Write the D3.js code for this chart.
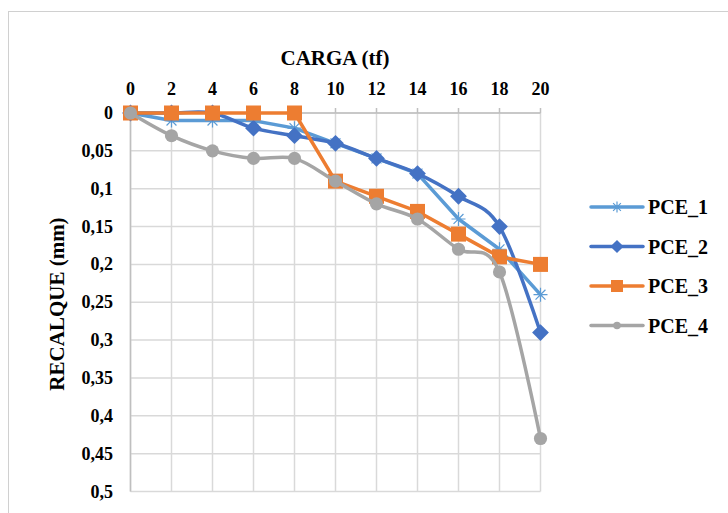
<!DOCTYPE html>
<html><head><meta charset="utf-8">
<script src="https://cdn.jsdelivr.net/npm/d3@7"></script>
<style>body{margin:0;background:#fff;}</style>
</head><body>
<svg id="c" width="728" height="513"></svg>
<script>
const cargas = [0, 2, 4, 6, 8, 10, 12, 14, 16, 18, 20];
const pce1 = [0, 0.01, 0.01, 0.01, 0.02, 0.04, 0.06, 0.08, 0.14, 0.18, 0.24];
const pce2 = [0, 0, 0, 0.02, 0.03, 0.04, 0.06, 0.08, 0.11, 0.15, 0.29];
const pce3 = [0, 0, 0, 0, 0, 0.09, 0.11, 0.13, 0.16, 0.19, 0.20];
const pce4 = [0, 0.03, 0.05, 0.06, 0.06, 0.09, 0.12, 0.14, 0.18, 0.21, 0.43];
const seriesNames = ["PCE_1", "PCE_2", "PCE_3", "PCE_4"];
const xTicks = [0, 2, 4, 6, 8, 10, 12, 14, 16, 18, 20];
const yTicks = [0, 0.05, 0.1, 0.15, 0.2, 0.25, 0.3, 0.35, 0.4, 0.45, 0.5];

const colors = ["#5B9BD5", "#4472C4", "#ED7D31", "#A5A5A5"];
const markers = ["star", "diamond", "square", "circle"];
const smooth = [false, true, false, true];
const values = [pce1, pce2, pce3, pce4];
const FONT = "'Liberation Serif', 'Times New Roman', Times, serif";

const svg = d3.select("#c");
svg.append("rect").attr("x", 8.5).attr("y", 11.5).attr("width", 740).attr("height", 520)
  .attr("fill", "#fff").attr("stroke", "#d0d0d0").attr("stroke-width", 1);

const x = d3.scaleLinear().domain([0, 20]).range([130.5, 540.5]);
const y = d3.scaleLinear().domain([0, 0.5]).range([113, 491.5]);

const g = svg.append("g");
g.selectAll(".vg").data(xTicks).join("line")
  .attr("x1", d => x(d)).attr("x2", d => x(d)).attr("y1", y(0)).attr("y2", y(0.5))
  .attr("stroke", "#d9d9d9").attr("stroke-width", 1.5);
g.selectAll(".hg").data(yTicks).join("line")
  .attr("x1", x(0)).attr("x2", x(20)).attr("y1", d => y(d)).attr("y2", d => y(d))
  .attr("stroke", "#d9d9d9").attr("stroke-width", 1.5);
g.append("line").attr("x1", x(0)).attr("x2", x(0)).attr("y1", y(0)).attr("y2", y(0.5)).attr("stroke", "#bfbfbf").attr("stroke-width", 1.5);
g.append("line").attr("x1", x(0)).attr("x2", x(20)).attr("y1", y(0)).attr("y2", y(0)).attr("stroke", "#bfbfbf").attr("stroke-width", 1.5);
g.selectAll(".tk").data(xTicks).join("line")
  .attr("x1", d => x(d)).attr("x2", d => x(d)).attr("y1", y(0) - 5).attr("y2", y(0))
  .attr("stroke", "#bfbfbf").attr("stroke-width", 1.5);

const txt = (sel) => sel.attr("font-family", FONT).attr("font-weight", "bold").attr("fill", "#000");
const fmt = d => String(d).replace(".", ",");
svg.append("g").selectAll("text").data(xTicks).join("text")
  .attr("x", d => x(d)).attr("y", 95).attr("text-anchor", "middle")
  .attr("font-size", 18).call(txt).text(d => d);
svg.append("g").selectAll("text").data(yTicks).join("text")
  .attr("x", 113).attr("y", d => y(d) + 6).attr("text-anchor", "end")
  .attr("font-size", 18).call(txt).text(d => fmt(d));

svg.append("text").attr("x", 335).attr("y", 65).attr("text-anchor", "middle")
  .attr("font-size", 21).call(txt).text("CARGA (tf)");
svg.append("text").attr("transform", "translate(64,304) rotate(-90)").attr("text-anchor", "middle")
  .attr("font-size", 21).call(txt).text("RECALQUE (mm)");

function drawMarker(sel, type, color, cx, cy, size) {
  if (type === "circle") {
    sel.append("circle").attr("cx", cx).attr("cy", cy).attr("r", size * 0.47).attr("fill", color);
  } else if (type === "square") {
    sel.append("rect").attr("x", cx - size / 2).attr("y", cy - size / 2).attr("width", size).attr("height", size).attr("fill", color);
  } else if (type === "diamond") {
    const s = size * 0.6;
    sel.append("path").attr("d", `M${cx},${cy - s}L${cx + s},${cy}L${cx},${cy + s}L${cx - s},${cy}Z`).attr("fill", color);
  } else if (type === "star") {
    const s = size * 0.5;
    const p = [];
    for (let k = 0; k < 4; k++) {
      const a = k * Math.PI / 4;
      p.push(`M${cx - s * Math.cos(a)},${cy - s * Math.sin(a)}L${cx + s * Math.cos(a)},${cy + s * Math.sin(a)}`);
    }
    sel.append("path").attr("d", p.join("")).attr("stroke", color).attr("stroke-width", 1.2).attr("fill", "none");
  }
}

const sizes = [14, 14, 15, 14];
values.forEach((vals, si) => {
  const sg = svg.append("g");
  const line = d3.line().x((d, i) => x(cargas[i])).y(d => y(d))
    .curve(smooth[si] ? d3.curveCatmullRom.alpha(0) : d3.curveLinear);
  sg.append("path").datum(vals).attr("d", line).attr("fill", "none")
    .attr("stroke", colors[si]).attr("stroke-width", 3.5).attr("stroke-linejoin", "round").attr("stroke-linecap", "round");
  vals.forEach((v, i) => drawMarker(sg, markers[si], colors[si], x(cargas[i]), y(v), sizes[si]));
});

const legY = [207, 246.5, 286, 325.5];
seriesNames.forEach((nm, si) => {
  const lg = svg.append("g");
  lg.append("line").attr("x1", 591).attr("x2", 643).attr("y1", legY[si]).attr("y2", legY[si])
    .attr("stroke", colors[si]).attr("stroke-width", 3.5).attr("stroke-linecap", "round");
  drawMarker(lg, markers[si], colors[si], 617, legY[si], si === 3 ? 8 : (si === 2 ? 12 : 11));
  lg.append("text").attr("x", 648).attr("y", legY[si] + 7).attr("font-size", 20).call(txt).text(nm);
});
</script>
</body></html>
